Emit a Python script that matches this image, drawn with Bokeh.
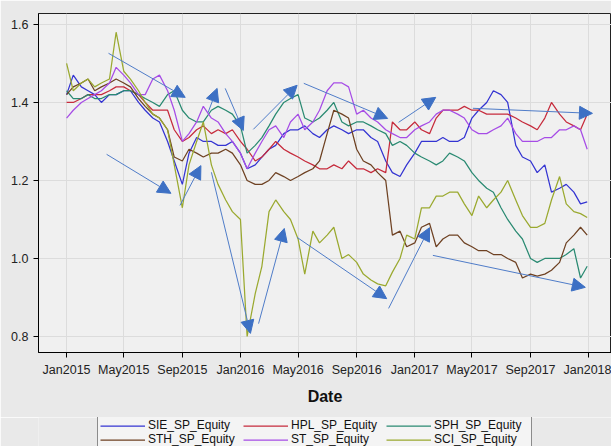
import pandas as pd
from bokeh.plotting import figure
from bokeh.layouts import column
from bokeh.models import (ColumnDataSource, Legend, LegendItem, FixedTicker,
                          DatetimeTickFormatter, NumeralTickFormatter, Range1d,
                          Arrow, NormalHead)
from bokeh.embed import file_html
from bokeh.resources import INLINE

# semimonthly sampling dates (1st and 15th of each month) + last trading day
dates = [f"{y}-{m:02d}-{d:02d}" for y in (2015, 2016, 2017)
         for m in range(1, 13) for d in (1, 15)] + ["2017-12-29"]

series_names = ["SIE_SP_Equity", "HPL_SP_Equity", "SPH_SP_Equity",
                "STH_SP_Equity", "ST_SP_Equity", "SCI_SP_Equity"]

sie = [1.42, 1.47, 1.44, 1.43, 1.42, 1.40, 1.42, 1.42, 1.43, 1.43,
       1.40, 1.38, 1.36, 1.35, 1.30, 1.25, 1.19, 1.27, 1.31, 1.30,
       1.30, 1.29, 1.29, 1.30, 1.27, 1.23, 1.24, 1.26, 1.28, 1.29,
       1.32, 1.33, 1.33, 1.34, 1.32, 1.31, 1.33, 1.34, 1.33, 1.32,
       1.33, 1.33, 1.31, 1.30, 1.25, 1.22, 1.21, 1.24, 1.27, 1.30,
       1.30, 1.30, 1.31, 1.30, 1.30, 1.31, 1.36, 1.38, 1.40, 1.43,
       1.42, 1.40, 1.29, 1.26, 1.25, 1.22, 1.24, 1.17, 1.18, 1.19,
       1.17, 1.14, 1.145]

hpl = [1.40, 1.40, 1.41, 1.42, 1.42, 1.42, 1.43, 1.44, 1.44, 1.43,
       1.42, 1.40, 1.38, 1.38, 1.38, 1.33, 1.30, 1.31, 1.33, 1.34,
       1.32, 1.33, 1.32, 1.33, 1.30, 1.28, 1.25, 1.26, 1.28, 1.30,
       1.28, 1.27, 1.26, 1.25, 1.24, 1.23, 1.23, 1.24, 1.23, 1.25,
       1.23, 1.23, 1.22, 1.23, 1.22, 1.35, 1.33, 1.33, 1.35, 1.33,
       1.32, 1.36, 1.38, 1.38, 1.38, 1.39, 1.38, 1.38, 1.37, 1.37,
       1.37, 1.37, 1.36, 1.35, 1.34, 1.33, 1.36, 1.40, 1.37, 1.35,
       1.34, 1.33, 1.37]

sph = [1.43, 1.41, 1.41, 1.42, 1.41, 1.41, 1.42, 1.42, 1.43, 1.43,
       1.42, 1.41, 1.40, 1.39, 1.42, 1.43, 1.38, 1.36, 1.35, 1.35,
       1.38, 1.39, 1.38, 1.37, 1.34, 1.27, 1.29, 1.31, 1.34, 1.37,
       1.40, 1.41, 1.42, 1.36, 1.35, 1.36, 1.38, 1.40, 1.35, 1.34,
       1.35, 1.35, 1.34, 1.33, 1.32, 1.29, 1.30, 1.29, 1.27, 1.26,
       1.25, 1.24, 1.25, 1.27, 1.26, 1.25, 1.22, 1.20, 1.18, 1.17,
       1.13, 1.10, 1.07, 1.05, 1.00, 0.99, 1.00, 1.00, 1.00, 1.01,
       1.025, 0.95, 0.98]

sth = [1.42, 1.44, 1.45, 1.46, 1.43, 1.44, 1.45, 1.46, 1.45, 1.44,
       1.41, 1.39, 1.37, 1.36, 1.33, 1.26, 1.25, 1.28, 1.27, 1.26,
       1.27, 1.27, 1.28, 1.27, 1.24, 1.20, 1.19, 1.19, 1.20, 1.22,
       1.21, 1.20, 1.21, 1.22, 1.23, 1.25, 1.32, 1.38, 1.37, 1.36,
       1.28, 1.25, 1.24, 1.22, 1.20, 1.06, 1.07, 1.03, 1.04, 1.08,
       1.09, 1.03, 1.05, 1.06, 1.06, 1.04, 1.03, 1.02, 1.02, 1.01,
       1.01, 1.00, 0.99, 0.95, 0.96, 0.955, 0.96, 0.97, 0.99, 1.04,
       1.06, 1.08, 1.06]

st = [1.36, 1.38, 1.40, 1.41, 1.42, 1.43, 1.45, 1.49, 1.47, 1.45,
      1.42, 1.42, 1.46, 1.47, 1.43, 1.38, 1.30, 1.32, 1.35, 1.39,
      1.36, 1.35, 1.32, 1.30, 1.27, 1.23, 1.27, 1.30, 1.33, 1.34,
      1.31, 1.35, 1.37, 1.33, 1.35, 1.38, 1.43, 1.45, 1.45, 1.44,
      1.37, 1.38, 1.36, 1.35, 1.33, 1.32, 1.31, 1.31, 1.33, 1.34,
      1.35, 1.37, 1.38, 1.38, 1.37, 1.36, 1.33, 1.32, 1.32, 1.33,
      1.34, 1.36, 1.32, 1.30, 1.30, 1.30, 1.31, 1.31, 1.33, 1.33,
      1.34, 1.33, 1.28]

sci = [1.50, 1.43, 1.45, 1.46, 1.44, 1.45, 1.46, 1.58, 1.48, 1.46,
       1.43, 1.40, 1.37, 1.36, 1.33, 1.24, 1.13, 1.24, 1.30, 1.35,
       1.24, 1.19, 1.15, 1.12, 1.10, 0.80, 0.91, 0.98, 1.12, 1.15,
       1.12, 1.10, 1.05, 0.96, 1.07, 1.04, 1.06, 1.08, 1.00, 1.01,
       0.99, 0.96, 0.945, 0.935, 0.93, 0.965, 1.00, 1.06, 1.05, 1.13,
       1.13, 1.16, 1.16, 1.17, 1.17, 1.14, 1.11, 1.16, 1.13, 1.15,
       1.17, 1.20, 1.15, 1.11, 1.08, 1.08, 1.09, 1.15, 1.21, 1.14,
       1.12, 1.115, 1.105]

colors = ["#3434d2", "#c62b3c", "#2a8a72", "#6e4122", "#a64ce6", "#9aa92f"]

tick_dates = ["2015-01-01", "2015-05-01", "2015-09-01", "2016-01-01", "2016-05-01",
              "2016-09-01", "2017-01-01", "2017-05-01", "2017-09-01", "2018-01-01"]
y_ticks = [0.8, 1.0, 1.2, 1.4, 1.6]

# annotation arrows (start date, start value, end date, end value)
arrow_x0 = ["2015-03-30", "2015-03-26", "2015-08-27", "2015-10-25", "2015-11-30",
            "2016-01-28", "2016-05-13", "2016-11-28", "2017-05-03",
            "2015-11-01", "2016-02-08", "2016-04-29", "2016-11-07", "2017-02-08"]
arrow_y0 = [1.526, 1.267, 1.136, 1.374, 1.436, 1.331, 1.449, 1.349, 1.385,
            1.221, 0.833, 1.054, 0.872, 1.008]
arrow_x1 = ["2015-09-07", "2015-08-08", "2015-10-10", "2015-11-13", "2016-01-07",
            "2016-04-29", "2016-11-05", "2017-02-14", "2018-01-09",
            "2016-01-22", "2016-04-02", "2016-11-03", "2017-02-01", "2017-12-25"]
arrow_y1 = [1.413, 1.167, 1.238, 1.436, 1.328, 1.444, 1.359, 1.413, 1.372,
            0.808, 1.077, 0.897, 1.079, 0.926]


def ms(d):
    return pd.Timestamp(d).value // 10**6


x = pd.to_datetime(dates)
FONT = "Liberation Sans"
BORDER = "#e9e9e9"

p = figure(width=611, height=417, x_axis_type="datetime",
           output_backend="svg", toolbar_location=None,
           x_range=Range1d(ms("2014-11-03"), ms("2018-02-18")),
           y_range=Range1d(0.759, 1.628),
           min_border_left=38, min_border_right=0, min_border_top=13,
           min_border_bottom=65)

p.background_fill_color = "#f0f0f0"
p.border_fill_color = BORDER
p.outline_line_color = "#222222"
p.outline_line_width = 1
p.grid.grid_line_color = "#dcdcdc"
p.grid.grid_line_width = 1

for name, vals, c in zip(series_names, [sie, hpl, sph, sth, st, sci], colors):
    src = ColumnDataSource(dict(x=x, y=vals))
    p.line("x", "y", source=src, line_color=c, line_width=1.25)

asrc = ColumnDataSource(dict(x0=[ms(d) for d in arrow_x0], y0=arrow_y0,
                             x1=[ms(d) for d in arrow_x1], y1=arrow_y1))
p.add_layout(Arrow(x_start="x0", y_start="y0", x_end="x1", y_end="y1", source=asrc,
                   line_color="#4f7cc8", line_width=1,
                   end=NormalHead(size=13, fill_color="#3d70c4", line_color="#3d70c4")))

p.xaxis.ticker = FixedTicker(ticks=[ms(d) for d in tick_dates])
fmt = "%b%Y"
p.xaxis.formatter = DatetimeTickFormatter(milliseconds=fmt, seconds=fmt, minsec=fmt,
                                          minutes=fmt, hourmin=fmt, hours=fmt, days=fmt,
                                          months=fmt, years=fmt)
p.yaxis.ticker = FixedTicker(ticks=y_ticks)
p.yaxis.formatter = NumeralTickFormatter(format="0.0")

for ax in (p.xaxis, p.yaxis):
    ax.axis_line_color = "black"
    ax.major_tick_line_color = "black"
    ax.major_tick_out = 5
    ax.major_tick_in = 0
    ax.minor_tick_line_color = None
    ax.major_label_text_font = FONT
    ax.major_label_text_font_size = "12.5px"
    ax.major_label_text_color = "#222222"

p.xaxis.axis_label = "Date"
p.xaxis.axis_label_text_font = FONT
p.xaxis.axis_label_text_font_style = "bold"
p.xaxis.axis_label_text_font_size = "16px"
p.xaxis.axis_label_text_color = "#111111"
p.xaxis.axis_label_standoff = 8

# legend strip below the chart
p2 = figure(width=611, height=29, output_backend="svg", toolbar_location=None,
            x_range=Range1d(0, 1), y_range=Range1d(0, 1),
            min_border=0, min_border_left=0, min_border_right=0,
            min_border_top=0, min_border_bottom=0)
p2.axis.visible = False
p2.grid.visible = False
p2.outline_line_color = None
p2.background_fill_color = BORDER
p2.border_fill_color = BORDER

items = []
for name, c in zip(series_names, colors):
    # legend-only renderer, its points lie outside the strip's visible range
    r = p2.line(x=[5, 6], y=[5, 6], line_color=c, line_width=1.25)
    items.append(LegendItem(label=name, renderers=[r]))

legend = Legend(items=items, orientation="horizontal", ncols=3,
                label_text_font=FONT, label_text_font_size="12px",
                label_text_color="#111111",
                glyph_width=45, glyph_height=11, label_height=11, label_width=95,
                label_standoff=3, spacing=0, padding=2, margin=0,
                border_line_color="#222222", border_line_width=1,
                background_fill_color="#f4f4f4", background_fill_alpha=1,
                location=(59, -3))
p2.add_layout(legend, "center")

open("out.html", "w").write(file_html(column(p, p2, spacing=0), INLINE))
